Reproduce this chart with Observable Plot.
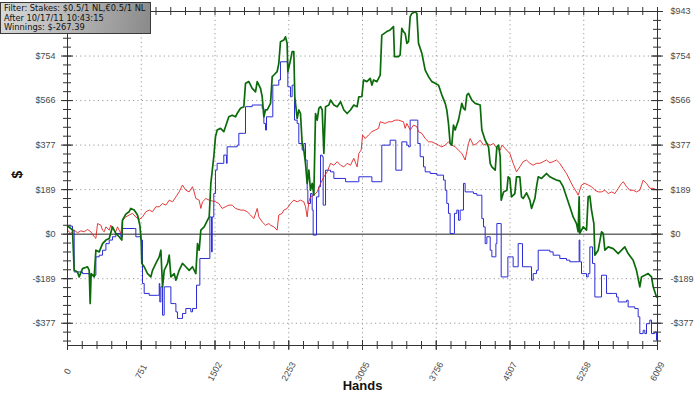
<!DOCTYPE html>
<html><head><meta charset="utf-8">
<script src="https://cdn.jsdelivr.net/npm/d3@7"></script>
<script src="https://cdn.jsdelivr.net/npm/@observablehq/plot@0.6"></script>
<style>
body{margin:0;background:#fff;}
#wrap{position:relative;width:700px;height:396px;overflow:hidden;}
#legend{position:absolute;left:0;top:2px;width:146px;height:29px;border:1px solid #3a3a3a;
background:linear-gradient(100deg,#d9d9d9 0%,#b4b4b4 50%,#8a8a8a 100%);
font-family:"DejaVu Sans",sans-serif;font-size:8.3px;line-height:9.7px;padding:1px 0 0 3px;color:#111;white-space:nowrap;}
</style></head>
<body>
<div id="wrap">
<div id="chart"></div>
<div id="legend"><div>Filter: Stakes: $0.5/1 NL,€0.5/1 NL</div><div>After 10/17/11 10:43:15</div><div>Winnings: $-267.39</div></div>
</div>
<script>
// Net won (green)
const netWon = [[0,34],[34,24],[51,17],[68,-153],[102,-160],[119,-181],[153,-146],[204,-138],[221,-153],[231,-294],[241,-167],[272,-181],[289,-68],[323,-75],[357,-40],[391,-25],[425,-18],[458,31],[492,3],[526,-11],[553,-25],[560,59],[594,85],[628,95],[645,109],[679,102],[713,81],[737,38],[750,-25],[757,-124],[781,-138],[815,-167],[849,-181],[866,-153],[900,-124],[934,-96],[951,-68],[968,-223],[985,-153],[1019,-124],[1036,-89],[1053,-181],[1087,-167],[1104,-195],[1137,-153],[1171,-124],[1205,-138],[1239,-153],[1273,-138],[1307,-167],[1324,-40],[1341,-68],[1358,17],[1392,31],[1426,59],[1443,73],[1460,215],
[1490,328],[1507,412],[1524,441],[1558,448],[1592,434],[1609,455],[1643,497],[1677,504],[1711,497],[1728,511],[1762,533],[1796,540],[1813,639],[1847,646],[1881,617],[1915,603],[1932,646],[1966,617],[1983,582],[2000,497],[2017,526],[2034,526],[2051,540],[2068,554],[2085,667],[2102,674],[2135,688],[2152,723],[2169,815],[2203,822],[2220,836],[2237,808],[2244,688],[2271,737],[2288,773],[2305,773],[2315,582],[2339,490],[2356,526],[2373,511],[2390,384],[2407,356],[2424,300],[2441,215],[2458,271],[2475,186],[2492,215],[2509,165],[2526,511],[2543,483],[2560,533],[2577,540],[2594,526],[2611,342],[2628,540],[2662,547],[2679,568],[2713,547],[2747,540],[2781,561],[2815,526],[2848,511],[2882,526],[2916,547],[2950,540],[2967,582],
[2998,582],[3015,653],[3049,646],[3083,660],[3100,631],[3117,653],[3151,646],[3185,674],[3201,843],[3252,858],[3286,865],[3320,879],[3330,752],[3371,752],[3388,759],[3405,872],[3422,858],[3439,850],[3456,808],[3473,815],[3490,921],[3507,935],[3541,942],[3558,935],[3575,808],[3609,766],[3643,695],[3677,667],[3711,646],[3745,639],[3779,631],[3813,589],[3847,554],[3863,526],[3880,469],[3897,384],[3914,377],[3931,462],[3948,441],[3965,462],[3982,483],[4016,554],[4033,533],[4050,526],[4067,589],[4084,596],[4118,568],[4152,554],[4203,547],[4220,441],[4254,398],[4288,370],[4305,300],[4322,285],[4356,271],[4373,370],[4390,377],[4407,328],[4417,144],[4441,179],[4475,186],
[4488,243],[4505,236],[4522,158],[4556,172],[4573,243],[4607,243],[4624,158],[4641,151],[4675,175],[4709,144],[4726,109],[4743,130],[4760,151],[4777,201],[4794,243],[4828,236],[4862,250],[4879,257],[4913,243],[4946,236],[4980,229],[5014,226],[5048,201],[5082,158],[5116,116],[5150,73],[5184,45],[5201,10],[5211,158],[5218,3],[5252,31],[5286,17],[5303,158],[5320,161],[5337,102],[5361,45],[5371,-89],[5405,-68],[5439,10],[5456,3],[5473,-68],[5507,-54],[5558,-61],[5609,-82],[5643,-68],[5676,-54],[5710,-82],[5761,-110],[5795,-153],[5829,-223],[5846,-181],[5880,-174],[5914,-167],[5948,-181],[5965,-223],[5999,-266],[6009,-267.39]];

// Won at showdown (blue)
const showdownWon = [[0,34],[51,17],[68,-160],[153,-167],[221,-174],[289,-96],[323,-89],[357,-68],[391,-40],[425,-25],[458,-11],[492,3],[543,-11],[560,24],[679,24],[696,-11],[747,-25],[764,-209],[781,-251],[832,-259],[917,-259],[934,-209],[940,-287],[951,-223],[968,-343],[985,-223],[1036,-223],[1053,-294],[1087,-294],[1104,-329],[1120,-357],[1154,-357],[1171,-336],[1205,-315],[1256,-329],[1273,-315],[1307,-315],[1314,-216],[1341,-216],[1348,-103],[1443,-103],[1450,73],
[1467,-75],[1474,73],[1490,172],[1507,271],[1524,300],[1592,335],[1619,300],[1626,370],[1728,377],[1745,427],[1796,427],[1813,540],[1881,547],[1983,533],[2000,469],[2017,441],[2027,497],[2085,497],[2091,631],[2135,631],[2152,653],[2169,730],[2237,730],[2244,624],[2271,582],[2288,631],[2305,631],[2312,483],[2339,469],[2356,384],[2390,356],[2407,384],[2424,314],[2441,186],[2448,130],[2475,172],[2492,102],[2502,-4],[2526,-4],[2536,158],[2560,201],[2577,335],[2594,328],[2604,123],[2618,123],[2628,271],[2679,264],[2713,236],[2815,236],[2832,222],[2950,222],[2967,243],
[3083,243],[3100,222],[3185,222],[3201,377],[3286,398],[3337,398],[3344,271],[3388,271],[3405,391],[3456,377],[3473,370],[3490,483],[3558,483],[3568,384],[3592,328],[3626,285],[3643,264],[3694,257],[3762,250],[3830,229],[3847,186],[3863,130],[3880,88],[3897,3],[3931,3],[3941,88],[3965,102],[3982,59],[3999,102],[4033,215],[4050,179],[4135,172],[4169,165],[4203,165],[4220,66],[4237,31],[4254,-40],[4271,-11],[4305,-68],[4322,-96],[4356,-96],[4363,-40],[4373,45],[4407,45],[4417,-181],[4475,-181],[4485,-96],
[4522,-96],[4539,-138],[4573,-138],[4590,-40],[4624,-40],[4634,-138],[4709,-138],[4726,-195],[4743,-167],[4777,-153],[4794,-68],[4913,-75],[4946,-89],[5014,-103],[5082,-110],[5116,-117],[5201,-117],[5211,-25],[5218,-117],[5235,-167],[5286,-181],[5303,-167],[5320,-54],[5347,-124],[5371,-266],[5422,-266],[5439,-174],[5473,-174],[5490,-251],[5558,-251],[5592,-266],[5609,-287],[5694,-280],[5710,-308],[5778,-315],[5812,-350],[5829,-421],[5863,-407],[5880,-421],[5897,-379],[5931,-364],[5948,-421],[5982,-414],[5999,-449],[6009,-468]];

// Won without showdown (red)
const nonShowdownWon = [[0,17],[34,3],[68,17],[102,6],[136,14],[170,10],[204,20],[238,10],[272,-11],[289,-18],[306,45],[340,38],[357,17],[374,10],[391,31],[425,17],[441,38],[458,24],[492,10],[509,31],[543,3],[560,59],[594,73],[628,81],[662,88],[696,73],[730,62],[764,73],[798,95],[832,102],[866,95],[900,116],[934,116],[968,130],[1002,123],[1036,144],[1070,137],[1104,158],[1137,179],[1171,208],[1205,186],[1239,179],[1273,201],[1290,179],[1307,151],[1341,144],[1358,109],[1375,137],[1409,151],[1443,144],
[1507,137],[1541,130],[1575,109],[1609,116],[1643,123],[1677,123],[1711,109],[1762,102],[1796,102],[1830,95],[1864,81],[1898,66],[1932,109],[1949,73],[1983,52],[2017,38],[2051,45],[2068,38],[2102,31],[2135,17],[2152,81],[2186,88],[2203,102],[2237,109],[2271,130],[2305,144],[2339,137],[2373,144],[2407,137],[2424,116],[2441,73],[2458,137],[2475,158],[2509,165],[2543,179],[2577,215],[2611,243],[2645,264],[2679,300],[2713,292],[2747,307],[2781,292],[2815,285],[2848,300],[2882,292],[2916,321],[2950,285],[2967,342],
[2991,356],[3005,420],[3032,405],[3066,420],[3100,434],[3134,441],[3168,448],[3185,476],[3235,469],[3269,476],[3303,476],[3337,483],[3371,483],[3422,476],[3439,448],[3456,469],[3490,441],[3524,462],[3558,455],[3575,434],[3609,427],[3643,405],[3677,391],[3711,391],[3745,384],[3779,377],[3813,370],[3847,377],[3880,391],[3914,377],[3948,370],[3982,356],[4016,342],[4050,314],[4067,349],[4084,384],[4101,405],[4135,377],[4169,384],[4203,398],[4237,377],[4271,384],[4305,377],[4339,384],[4373,363],[4407,356],[4424,377],[4458,363],
[4471,356],[4505,342],[4539,300],[4573,264],[4607,285],[4641,307],[4675,314],[4709,300],[4743,292],[4777,300],[4811,300],[4845,307],[4879,314],[4913,302],[4946,307],[4980,314],[5014,300],[5048,278],[5082,257],[5116,229],[5150,201],[5184,179],[5201,165],[5235,208],[5269,215],[5303,208],[5337,201],[5371,186],[5405,179],[5439,179],[5473,186],[5507,172],[5541,179],[5575,172],[5609,194],[5643,215],[5660,222],[5694,201],[5727,186],[5761,186],[5795,179],[5829,186],[5863,229],[5897,215],[5931,194],[5965,194],[6009,186]];

const xTicks = [0, 751.1, 1502.3, 2253.4, 3004.5, 3755.6, 4506.8, 5257.9, 6009];
const xTickLabels = ["0","751","1502","2253","3005","3756","4507","5258","6009"];
const yTicks = [-377.2, -188.6, 0, 188.6, 377.2, 565.8, 754.4, 943];
const yTickLabels = ["-$377","-$189","$0","$189","$377","$566","$754","$943"];
const xLabel = "Hands";
const yLabel = "$";

const xMin = 0, xMax = 6009, yMin = -471.5, yMax = 943;
const xMinor = d3.range(0, 41).map(k => xMax * k / 40);
const yMinor = d3.range(-12, 26).map(k => yMax * k / 25);

const tickColor = "#333";
const labelColor = "#4a4a4a";
// left labels: the top one sits under the filter box in the reference
const leftIdx = yTicks.map((d, i) => i).filter(i => yTicks[i] < yMax);

const chart = Plot.plot({
  width: 700, height: 396,
  marginTop: 11, marginBottom: 51, marginLeft: 67, marginRight: 43,
  x: {domain: [xMin, xMax], axis: null},
  y: {domain: [yMin, yMax], axis: null},
  style: {fontFamily: "'Liberation Sans', Arial, sans-serif", fontSize: "9px", background: "#fff"},
  marks: [
    Plot.ruleY(yTicks.filter(v => v !== 0 && v !== yMax), {stroke: "#9a9a9a", strokeDasharray: "1.2,3.2"}),
    Plot.ruleX(xTicks.filter(v => v > 0 && v < xMax), {stroke: "#9a9a9a", strokeDasharray: "1.2,3.2"}),
    Plot.ruleY([0], {stroke: "#222", strokeWidth: 1}),
    Plot.line(showdownWon, {x: d => d[0], y: d => d[1], curve: "step-after", stroke: "#2b2bd6", strokeWidth: 1}),
    Plot.line(nonShowdownWon, {x: d => d[0], y: d => d[1], stroke: "#e02424", strokeWidth: 0.9}),
    Plot.line(netWon, {x: d => d[0], y: d => d[1], stroke: "#0b6b0b", strokeWidth: 1.7}),
    Plot.frame({stroke: tickColor}),
    Plot.ruleX(xMinor, {x: d => d, y1: yMin, y2: yMin, insetTop: -4, insetBottom: -4, stroke: tickColor}),
    Plot.ruleX(xMinor, {x: d => d, y1: yMax, y2: yMax, insetTop: -4, insetBottom: -4, stroke: tickColor}),
    Plot.ruleX(xTicks, {x: d => d, y1: yMin, y2: yMin, insetTop: -5, insetBottom: -5, stroke: tickColor}),
    Plot.ruleY(yMinor, {y: d => d, x1: xMin, x2: xMin, insetLeft: -4, insetRight: -4, stroke: tickColor}),
    Plot.ruleY(yMinor, {y: d => d, x1: xMax, x2: xMax, insetLeft: -4, insetRight: -4, stroke: tickColor}),
    Plot.ruleY(yTicks, {y: d => d, x1: xMin, x2: xMin, insetLeft: -6, insetRight: -6, stroke: tickColor}),
    Plot.ruleY(yTicks, {y: d => d, x1: xMax, x2: xMax, insetLeft: -6, insetRight: -6, stroke: tickColor}),
    Plot.text(leftIdx, {x: xMin, y: i => yTicks[i], text: i => yTickLabels[i], textAnchor: "end", dx: -12, fill: labelColor}),
    Plot.text(yTicks, {x: xMax, y: d => d, text: (d, i) => yTickLabels[i], textAnchor: "start", dx: 13, fill: labelColor}),
    Plot.text(xTicks, {x: d => d, y: yMin, text: (d, i) => xTickLabels[i], rotate: -62, textAnchor: "middle", dy: 26, fill: labelColor}),
    Plot.text([xLabel], {frameAnchor: "bottom", text: d => d, dy: 44, fontWeight: "bold", fontSize: 13, fill: "#111"}),
    Plot.text([yLabel], {frameAnchor: "left", text: d => d, dx: -50, rotate: -90, fontWeight: "bold", fontSize: 14, fill: "#111"})
  ]
});
document.getElementById("chart").appendChild(chart);
</script>
</body></html>
